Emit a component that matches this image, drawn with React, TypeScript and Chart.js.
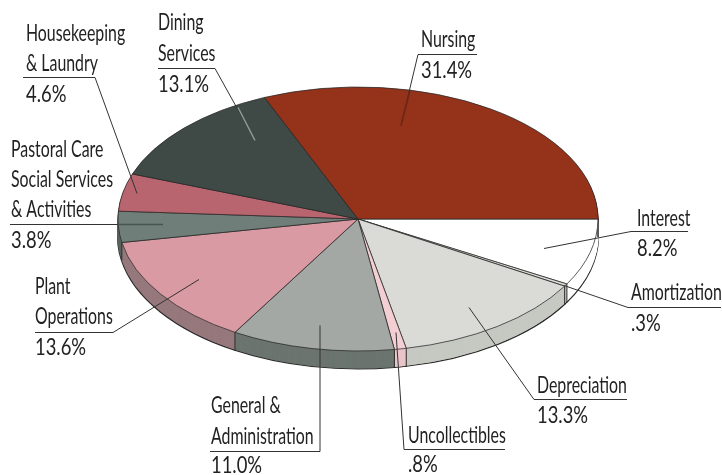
import React, { useEffect, useRef } from "react";
import { Chart, registerables } from "chart.js";

Chart.register(...registerables);

const categories = ["Interest", "Amortization", "Depreciation", "Uncollectibles", "General & Administration", "Plant Operations", "Pastoral Care Social Services & Activities", "Housekeeping & Laundry", "Dining Services", "Nursing"];
const shares = [8.2, 0.3, 13.3, 0.8, 11.0, 13.6, 3.8, 4.6, 13.1, 31.4];
const topColors = ["#ffffff", "#dcdcd6", "#dadbd7", "#f3cfd3", "#a3a8a4", "#d99aa3", "#6f7e78", "#b9656f", "#3f4a47", "#95321a"];
const sideColors = ["#ffffff", "#c6c7c1", "#c6c8c2", "#e9c5ca", "#6b746f", "#96797c", "#59645f", "#8d4f57", "#2e3533", "#6d2412"];

const TILT = 0.55;
const DEPTH = 18;
const INK = "#2b2b2b";
const TEXT_SQUEEZE = 0.69;
const PERCENT_SQUEEZE = 0.8;

type Callout = { lines: string[]; x: number; baselines: number[]; rule: number[]; leader: number[]; overlay?: number[]; overlayColor?: string };
const callouts: Callout[] = [
  { lines: ["Nursing", "31.4%"], x: 421, baselines: [47, 78], rule: [418, 477, 54], leader: [418, 54, 401, 125], overlay: [410, 90, 401, 125], overlayColor: "#6f2614" },
  { lines: ["Dining", "Services", "13.1%"], x: 158, baselines: [30, 61, 92], rule: [158, 215, 68], leader: [215, 68, 255, 140], overlay: [238, 107, 255, 140], overlayColor: "#8f9c97" },
  { lines: ["Housekeeping", "& Laundry", "4.6%"], x: 26, baselines: [41, 71, 102], rule: [23, 95, 77], leader: [95, 77, 137, 193] },
  { lines: ["Pastoral Care", "Social Services", "& Activities", "3.8%"], x: 11, baselines: [157, 187, 217, 248], rule: [10, 163, 224], leader: [], overlay: [118, 224, 163, 224], overlayColor: "#48544f" },
  { lines: ["Plant", "Operations", "13.6%"], x: 35, baselines: [294, 324, 355], rule: [35, 113, 332], leader: [113, 332, 199, 279] },
  { lines: ["General &", "Administration", "11.0%"], x: 211, baselines: [413, 444, 473], rule: [210, 320, 451], leader: [320, 451, 320, 325] },
  { lines: ["Uncollectibles", ".8%"], x: 408, baselines: [443, 472], rule: [404, 505, 449], leader: [404, 449, 396, 332] },
  { lines: ["Depreciation", "13.3%"], x: 537, baselines: [393, 423], rule: [534, 627, 399], leader: [534, 399, 469, 307] },
  { lines: ["Amortization", ".3%"], x: 631, baselines: [300, 331], rule: [628, 721, 307], leader: [628, 307, 564, 285] },
  { lines: ["Interest", "8.2%"], x: 637, baselines: [226, 256], rule: [631, 688, 231], leader: [631, 231, 544, 248] },
];

const tiltPlugin = {
  id: "tilt",
  beforeDatasetsDraw(chart: any) {
    const ctx = chart.ctx;
    const arcs = chart.getDatasetMeta(0).data;
    const cx = arcs[0].x;
    const cy = arcs[0].y;
    const r = arcs[0].outerRadius;
    const flatten = (dy: number) => {
      ctx.translate(cx, cy + dy);
      ctx.scale(1, TILT);
      ctx.translate(-cx, -cy);
    };
    for (let d = DEPTH; d > 0; d--) {
      ctx.save();
      flatten(d);
      arcs.forEach((arc: any, i: number) => {
        const saved = arc.options;
        arc.options = { ...saved, backgroundColor: sideColors[i], borderColor: d === DEPTH ? INK : sideColors[i], borderWidth: d === DEPTH ? 2 : 1 };
        arc.draw(ctx);
        arc.options = saved;
      });
      ctx.restore();
    }
    ctx.save();
    ctx.strokeStyle = INK;
    ctx.lineWidth = 1;
    arcs.forEach((arc: any) => {
      const a = arc.startAngle;
      const s = Math.sin(a);
      if (s >= -0.02) {
        const x = cx + r * Math.cos(a);
        const y = cy + r * TILT * s;
        ctx.beginPath();
        ctx.moveTo(x, y);
        ctx.lineTo(x, y + DEPTH);
        ctx.stroke();
      }
    });
    ctx.beginPath();
    ctx.moveTo(cx + r, cy);
    ctx.lineTo(cx + r, cy + DEPTH);
    ctx.stroke();
    ctx.restore();
    ctx.save();
    flatten(0);
  },
  afterDatasetsDraw(chart: any) {
    chart.ctx.restore();
  },
  afterDraw(chart: any) {
    const ctx = chart.ctx;
    ctx.save();
    ctx.textBaseline = "alphabetic";
    ctx.textAlign = "left";
    ctx.font = '400 23px Lato, "Open Sans", sans-serif';
    ctx.fillStyle = "#222222";
    ctx.lineWidth = 1;
    callouts.forEach((c) => {
      c.lines.forEach((t, i) => {
        ctx.save();
        ctx.translate(c.x, c.baselines[i]);
        ctx.scale(t.endsWith("%") ? PERCENT_SQUEEZE : TEXT_SQUEEZE, 1);
        ctx.fillText(t, 0, 0);
        ctx.restore();
      });
      ctx.strokeStyle = "#333333";
      ctx.beginPath();
      ctx.moveTo(c.rule[0], c.rule[2] + 0.5);
      ctx.lineTo(c.rule[1], c.rule[2] + 0.5);
      if (c.leader.length) {
        ctx.moveTo(c.leader[0], c.leader[1] + 0.5);
        ctx.lineTo(c.leader[2], c.leader[3] + 0.5);
      }
      ctx.stroke();
      if (c.overlay) {
        ctx.strokeStyle = c.overlayColor as string;
        ctx.lineWidth = 1.5;
        ctx.beginPath();
        ctx.moveTo(c.overlay[0], c.overlay[1] + 0.5);
        ctx.lineTo(c.overlay[2], c.overlay[3] + 0.5);
        ctx.stroke();
        ctx.lineWidth = 1;
      }
    });
    ctx.restore();
  },
};

export default function App() {
  const ref = useRef<HTMLCanvasElement>(null);
  useEffect(() => {
    const chart = new Chart(ref.current as HTMLCanvasElement, {
      type: "pie",
      data: {
        labels: categories,
        datasets: [
          {
            data: shares,
            backgroundColor: topColors,
            borderColor: INK,
            borderWidth: 1,
            clip: false,
          } as any,
        ],
      },
      options: {
        responsive: false,
        animation: false,
        rotation: 90,
        radius: 240,
        layout: { padding: { left: 118, right: 124, top: 0, bottom: 37 } },
        plugins: { legend: { display: false }, tooltip: { enabled: false } },
      } as any,
      plugins: [tiltPlugin],
    });
    return () => chart.destroy();
  }, []);
  return (
    <div style={{ position: "absolute", left: 0, top: 0, width: 722, height: 475, background: "#fff" }}>
      <canvas ref={ref} width={722} height={475} style={{ display: "block" }} />
    </div>
  );
}
